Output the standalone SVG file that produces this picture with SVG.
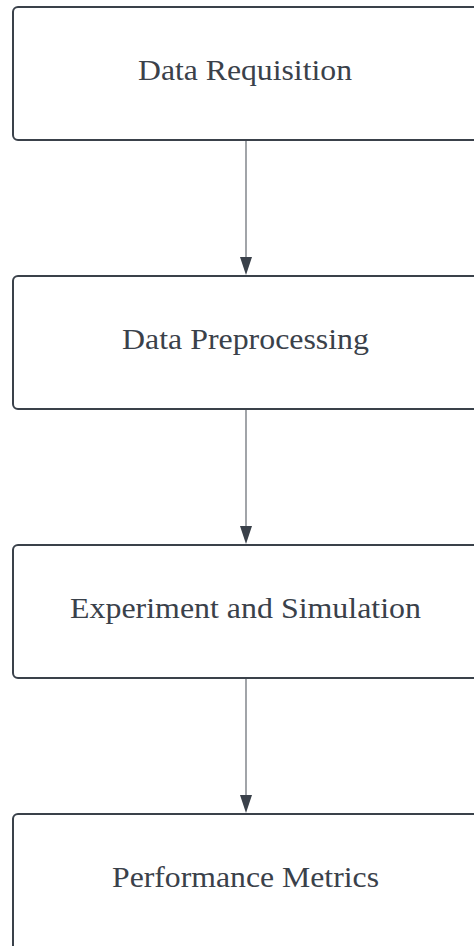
<svg xmlns="http://www.w3.org/2000/svg" width="474" height="946" viewBox="0 0 474 946">
<defs>
<style>
.box{fill:#ffffff;stroke:#3a414a;stroke-width:2}
.lbl{font-family:"Liberation Serif","Times New Roman",serif;font-size:30px;fill:#3a414a;text-anchor:middle}
.conn{stroke:#6f747a;stroke-width:1.3;fill:none}
</style>
<marker id="arr" viewBox="0 0 12 18" refX="6" refY="18" markerWidth="12" markerHeight="18" markerUnits="userSpaceOnUse" orient="auto-start-reverse">
<path d="M0,0 L12,0 L6,18 Z" fill="#3a414a"/>
</marker>
</defs>
<rect width="474" height="946" fill="#ffffff"/>
<g id="connectors">
<line class="conn" x1="246" y1="141" x2="246" y2="257" />
<path d="M240,257 L252,257 L246,275 Z" fill="#3a414a"/>
<line class="conn" x1="246" y1="410" x2="246" y2="526" />
<path d="M240,526 L252,526 L246,544 Z" fill="#3a414a"/>
<line class="conn" x1="246" y1="679" x2="246" y2="795" />
<path d="M240,795 L252,795 L246,813 Z" fill="#3a414a"/>
</g>
<g id="node1">
<rect class="box" x="13" y="7" width="470" height="133" rx="5"/>
<text class="lbl" x="245" y="80" textLength="214" lengthAdjust="spacingAndGlyphs">Data Requisition</text>
</g>
<g id="node2">
<rect class="box" x="13" y="276" width="470" height="133" rx="5"/>
<text class="lbl" x="245.5" y="349" textLength="247" lengthAdjust="spacingAndGlyphs">Data Preprocessing</text>
</g>
<g id="node3">
<rect class="box" x="13" y="545" width="470" height="133" rx="5"/>
<text class="lbl" x="245.5" y="618" textLength="351" lengthAdjust="spacingAndGlyphs">Experiment and Simulation</text>
</g>
<g id="node4">
<rect class="box" x="13" y="814" width="470" height="140" rx="5"/>
<text class="lbl" x="245.5" y="887" textLength="267" lengthAdjust="spacingAndGlyphs">Performance Metrics</text>
</g>
</svg>
